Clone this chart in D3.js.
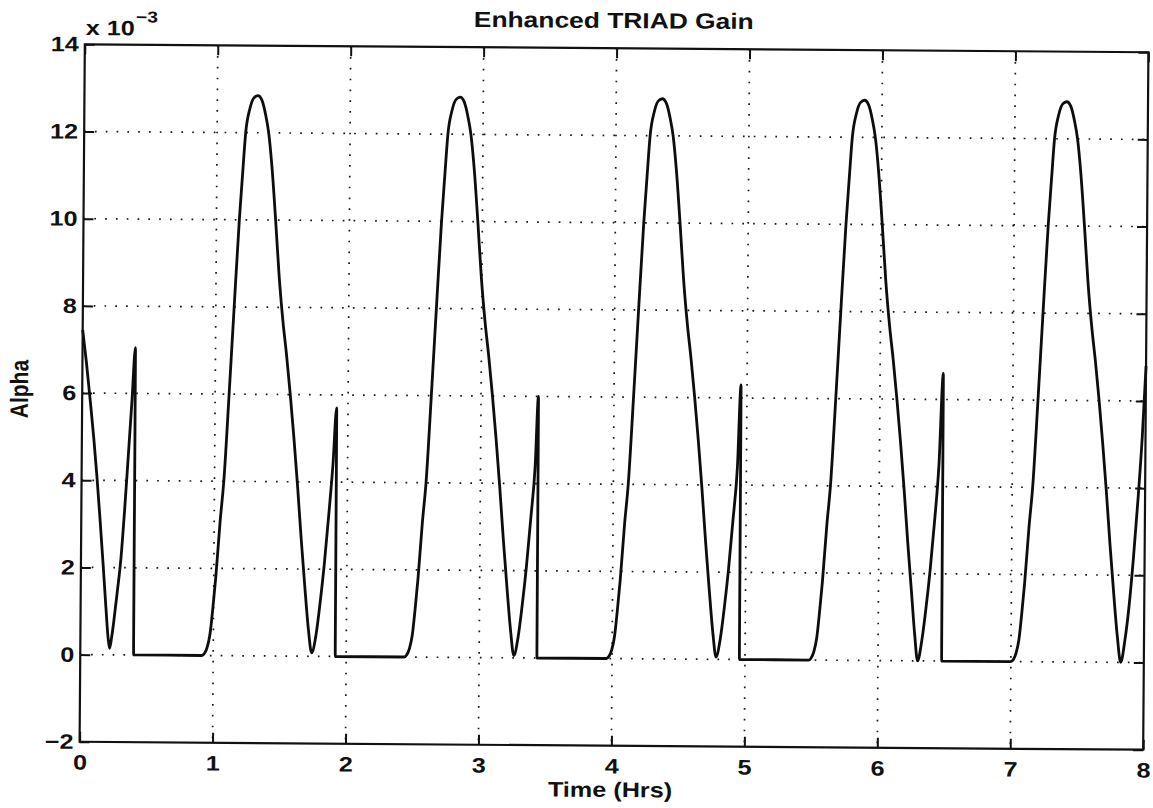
<!DOCTYPE html>
<html>
<head>
<meta charset="utf-8">
<script src="https://cdnjs.cloudflare.com/ajax/libs/d3/7.8.5/d3.min.js"></script>
<style>
body { margin: 0; background: #fff; }
svg { display: block; }
text { font-family: "Liberation Sans", Arial, Helvetica, sans-serif; font-weight: bold; fill: #111; }
</style>
</head>
<body>
<div id="chart"></div>
<script>
// [time (hrs), alpha (x 1e-3)], one array per orbit
var orbit0 = [[0.000,7.45],[0.030,6.70],[0.060,5.85],[0.090,4.95],[0.115,4.10],[0.140,3.15],[0.165,2.15],
    [0.190,1.10],[0.208,0.40],[0.220,0.15],[0.235,0.40],[0.250,0.76],[0.275,1.45],[0.300,2.19],[0.325,3.30],
    [0.350,4.56],[0.375,5.85],[0.398,7.05],[0.401,0.00],[0.915,0.00]];
var orbit1 = [[0.935,0.05],[0.955,0.20],[0.975,0.50],[0.995,1.10],[1.015,1.80],[1.045,3.10],[1.070,4.00],
    [1.105,6.00],[1.138,8.00],[1.172,10.00],[1.195,11.10],[1.215,12.00],[1.245,12.55],[1.275,12.80],[1.305,12.85],
    [1.335,12.75],[1.365,12.40],[1.388,12.00],[1.415,11.20],[1.445,10.00],[1.475,8.70],[1.505,7.70],[1.535,6.90],
    [1.565,6.00],[1.595,5.00],[1.625,3.90],[1.655,2.70],[1.685,1.60],[1.715,0.60],[1.740,0.08],[1.770,0.45],
    [1.800,1.20],[1.830,2.10],[1.860,3.20],[1.890,4.40],[1.915,5.70],[1.918,0.00],[2.436,0.00]];
var orbit2 = [[2.456,0.05],[2.476,0.20],[2.496,0.50],[2.516,1.10],[2.536,1.80],[2.566,3.10],[2.591,4.00],
    [2.626,6.00],[2.659,8.00],[2.693,10.00],[2.716,11.10],[2.736,12.00],[2.766,12.55],[2.796,12.80],[2.826,12.85],
    [2.856,12.75],[2.886,12.40],[2.909,12.00],[2.936,11.20],[2.966,10.00],[2.996,8.70],[3.026,7.70],[3.056,6.90],
    [3.086,6.00],[3.116,5.00],[3.146,3.90],[3.176,2.70],[3.206,1.60],[3.236,0.60],[3.261,0.05],[3.291,0.45],
    [3.321,1.20],[3.351,2.10],[3.381,3.20],[3.411,4.40],[3.432,6.00],[3.435,0.00],[3.957,0.00]];
var orbit3 = [[3.977,0.05],[3.997,0.20],[4.017,0.50],[4.037,1.10],[4.057,1.80],[4.087,3.10],[4.112,4.00],
    [4.147,6.00],[4.180,8.00],[4.214,10.00],[4.237,11.10],[4.257,12.00],[4.287,12.55],[4.317,12.80],[4.347,12.85],
    [4.377,12.75],[4.407,12.40],[4.430,12.00],[4.457,11.20],[4.487,10.00],[4.517,8.70],[4.547,7.70],[4.577,6.90],
    [4.607,6.00],[4.637,5.00],[4.667,3.90],[4.697,2.70],[4.727,1.60],[4.757,0.60],[4.782,0.05],[4.812,0.45],
    [4.842,1.20],[4.872,2.10],[4.902,3.20],[4.932,4.40],[4.955,6.30],[4.958,0.00],[5.478,0.00]];
var orbit4 = [[5.498,0.05],[5.518,0.20],[5.538,0.50],[5.558,1.10],[5.578,1.80],[5.608,3.10],[5.633,4.00],
    [5.668,6.00],[5.701,8.00],[5.735,10.00],[5.758,11.10],[5.778,12.00],[5.808,12.55],[5.838,12.80],[5.868,12.85],
    [5.898,12.75],[5.928,12.40],[5.951,12.00],[5.978,11.20],[6.008,10.00],[6.038,8.70],[6.068,7.70],[6.098,6.90],
    [6.128,6.00],[6.158,5.00],[6.188,3.90],[6.218,2.70],[6.248,1.60],[6.275,0.60],[6.298,0.00],[6.328,0.45],
    [6.358,1.20],[6.388,2.10],[6.418,3.20],[6.448,4.50],[6.476,6.60],[6.479,0.00],[6.999,0.00]];
var orbit5 = [[7.019,0.05],[7.039,0.20],[7.059,0.50],[7.079,1.10],[7.099,1.80],[7.129,3.10],[7.154,4.00],
    [7.189,6.00],[7.222,8.00],[7.256,10.00],[7.279,11.10],[7.299,12.00],[7.329,12.55],[7.359,12.80],[7.389,12.85],
    [7.419,12.75],[7.449,12.40],[7.472,12.00],[7.499,11.20],[7.529,10.00],[7.559,8.70],[7.589,7.70],[7.619,6.90],
    [7.649,6.00],[7.679,5.00],[7.709,3.90],[7.739,2.70],[7.769,1.60],[7.799,0.60],[7.826,0.00],[7.856,0.50],
    [7.886,1.30],[7.916,2.40],[7.946,3.70],[7.976,5.20],[8.000,6.80]];
var xTicks = [0, 1, 2, 3, 4, 5, 6, 7, 8];
var yTicks = [-2, 0, 2, 4, 6, 8, 10, 12, 14];

var outwidth = 1153,
    outheight = 808;
var margin = {
    left: 82.2, top: 48.25, right: 7.2, bottom: 62.25
};
var width = outwidth - margin.left - margin.right;
var height = outheight - margin.top - margin.bottom;
var stretch = 1.2;   // the scanned figure is wider than it is tall
var tilt = 0.43;     // and sits a little crooked

var svg = d3.select("#chart")
    .append("svg")
    .attr("width", outwidth)
    .attr("height", outheight);
svg.append("rect")
    .attr("width", outwidth)
    .attr("height", outheight)
    .attr("fill", "#fff");

var root = svg.append("g")
    .attr("transform", `rotate(${tilt},614,397)`);
var g = root.append("g")
    .attr("transform", `translate(${margin.left},${margin.top})`);

var x = d3.scaleLinear().domain([0, 8]).range([0, width]);
var y = d3.scaleLinear().domain([-2, 14]).range([height, 0]);

// dotted grid
g.append("g").attr("class", "grid-x")
    .selectAll("line")
    .data(xTicks.slice(1, -1))
    .join("line")
    .attr("x1", d => x(d)).attr("x2", d => x(d))
    .attr("y1", 0).attr("y2", height);
g.append("g").attr("class", "grid-y")
    .selectAll("line")
    .data(yTicks.slice(1, -1))
    .join("line")
    .attr("x1", 0).attr("x2", width)
    .attr("y1", d => y(d)).attr("y2", d => y(d));
g.selectAll(".grid-x line, .grid-y line")
    .attr("stroke", "#1a1a1a")
    .attr("stroke-width", 1.7)
    .attr("stroke-dasharray", "1.7,9.1");

// the curve
var allPoints = [].concat(orbit0, orbit1, orbit2, orbit3, orbit4, orbit5);
var line = d3.line()
    .x(d => x(d[0]))
    .y(d => y(d[1]))
    .curve(d3.curveMonotoneX);
g.append("path")
    .datum(allPoints)
    .attr("fill", "none")
    .attr("stroke", "#0d0d0d")
    .attr("stroke-width", 2.8)
    .attr("stroke-linejoin", "round")
    .attr("d", line);

// axes, ticks pointing inward on all four sides
var xAxis = g.append("g").attr("transform", `translate(0,${height})`)
    .call(d3.axisBottom(x).tickValues(xTicks).tickSizeInner(-10).tickSizeOuter(0).tickPadding(13));
var xAxisTop = g.append("g")
    .call(d3.axisTop(x).tickValues(xTicks).tickSizeInner(-10).tickSizeOuter(0).tickFormat(""));
var yAxis = g.append("g")
    .call(d3.axisLeft(y).tickValues(yTicks).tickSizeInner(-10).tickSizeOuter(0).tickPadding(5));
var yAxisRight = g.append("g").attr("transform", `translate(${width},0)`)
    .call(d3.axisRight(y).tickValues(yTicks).tickSizeInner(-10).tickSizeOuter(0).tickFormat(""));

[xAxis, xAxisTop, yAxis, yAxisRight].forEach(function (a) {
    a.select(".domain").remove();
    a.selectAll(".tick line").attr("stroke", "#111").attr("stroke-width", 2);
    a.attr("font-family", null).attr("font-size", 21);
    a.selectAll("text").attr("fill", "#111").attr("transform", `scale(${stretch},1)`);
});

g.append("rect")
    .attr("width", width)
    .attr("height", height)
    .attr("fill", "none")
    .attr("stroke", "#111")
    .attr("stroke-width", 2.2);

// labels
root.append("text")
    .attr("transform", `translate(611,28) scale(${stretch},1)`)
    .attr("text-anchor", "middle")
    .style("font-size", "22px")
    .text("Enhanced TRIAD Gain");

root.append("text")
    .attr("transform", `translate(613,797) scale(${stretch},1)`)
    .attr("text-anchor", "middle")
    .style("font-size", "21px")
    .text("Time (Hrs)");

root.append("text")
    .attr("transform", `translate(28,393.5) scale(${stretch},1) rotate(-90)`)
    .attr("text-anchor", "middle")
    .style("font-size", "21px")
    .text("Alpha");

var expo = root.append("text")
    .attr("transform", `translate(83,39) scale(${stretch},1)`)
    .style("font-size", "21px");
expo.append("tspan").text("x 10");
expo.append("tspan")
    .attr("dy", -13)
    .attr("dx", 1)
    .style("font-size", "16px")
    .text("\u22123");
</script>
</body>
</html>
